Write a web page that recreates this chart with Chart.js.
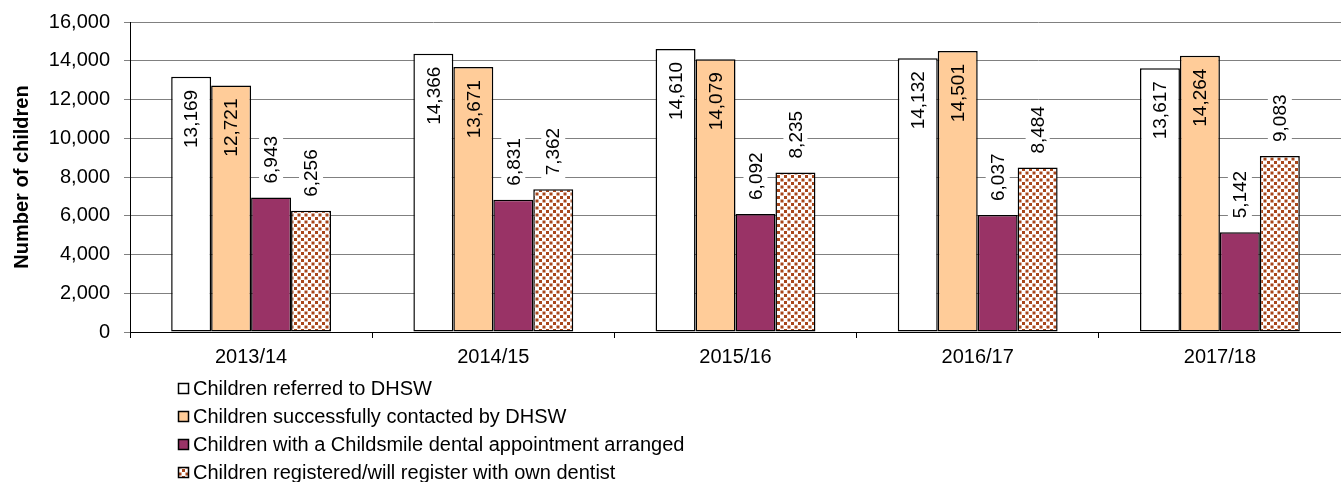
<!DOCTYPE html>
<html>
<head>
<meta charset="utf-8">
<script src="https://cdn.jsdelivr.net/npm/chart.js@4/dist/chart.umd.min.js"></script>
<style>
  html, body { margin: 0; padding: 0; background: #fff; }
  #wrap { width: 1341px; height: 482px; }
</style>
</head>
<body>
<div id="wrap"><canvas id="chart" width="1341" height="482"></canvas></div>
<script>
// chart data
const years = ['2013/14', '2014/15', '2015/16', '2016/17', '2017/18'];
const referred = [13169, 14366, 14610, 14132, 13617];
const contacted = [12721, 13671, 14079, 14501, 14264];
const appointment = [6943, 6831, 6092, 6037, 5142];
const ownDentist = [6256, 7362, 8235, 8484, 9083];
const seriesNames = [
  'Children referred to DHSW',
  'Children successfully contacted by DHSW',
  'Children with a Childsmile dental appointment arranged',
  'Children registered/will register with own dentist'
];
const yTicks = [0, 2000, 4000, 6000, 8000, 10000, 12000, 14000, 16000];

const FONT = "'Liberation Sans', Arial, sans-serif";

function fmt(n){
  return String(n).replace(/\B(?=(\d{3})+(?!\d))/g, ',');
}

// dotted brown fill for the last series
function makeDots(){
  const c = document.createElement('canvas');
  c.width = 7; c.height = 7;
  const g = c.getContext('2d');
  g.fillStyle = '#fff';
  g.fillRect(0, 0, 7, 7);
  g.fillStyle = '#a8461a';
  g.fillRect(0, 0, 3, 3);
  g.fillRect(3.5, 3.5, 3, 3);
  return g.createPattern(c, 'repeat');
}
const dots = makeDots();
const fills = ['#ffffff', '#ffcc99', '#993366', dots];

// rotated value labels: first two series inside the bar top, others above with white box
const valueLabels = {
  id: 'valueLabels',
  afterDatasetsDraw(chart){
    const ctx = chart.ctx;
    ctx.save();
    ctx.font = '19px ' + FONT;
    ctx.textBaseline = 'middle';
    chart.data.datasets.forEach((ds, di) => {
      const meta = chart.getDatasetMeta(di);
      meta.data.forEach((bar, i) => {
        const txt = fmt(ds.data[i]);
        const w = ctx.measureText(txt).width;
        ctx.save();
        if (di < 2) {
          ctx.translate(bar.x, bar.y + 13);
          ctx.rotate(-Math.PI / 2);
          ctx.textAlign = 'right';
        } else {
          ctx.translate(bar.x, bar.y - 14);
          ctx.rotate(-Math.PI / 2);
          ctx.textAlign = 'left';
          ctx.fillStyle = '#fff';
          ctx.fillRect(-4, -12, w + 8, 24);
        }
        ctx.fillStyle = '#000';
        ctx.fillText(txt, 0, 1);
        ctx.restore();
      });
    });
    ctx.restore();
  }
};

// legend as a left aligned list under the axis
const listLegend = {
  id: 'listLegend',
  afterDraw(chart){
    const ctx = chart.ctx;
    ctx.save();
    ctx.font = '20px ' + FONT;
    ctx.textBaseline = 'middle';
    ctx.textAlign = 'left';
    const rows = [388, 416, 444, 472];
    seriesNames.forEach((name, i) => {
      const y = rows[i];
      ctx.fillStyle = fills[i];
      ctx.fillRect(178, y - 5, 11, 11);
      ctx.strokeStyle = '#000';
      ctx.lineWidth = 1.5;
      ctx.strokeRect(178.5, y - 4.5, 10, 10);
      ctx.fillStyle = '#000';
      ctx.fillText(name, 193, y + 1);
    });
    ctx.restore();
  }
};

const allData = [referred, contacted, appointment, ownDentist];

new Chart(document.getElementById('chart'), {
  type: 'bar',
  data: {
    labels: years,
    datasets: allData.map((d, i) => ({
      label: seriesNames[i],
      data: d,
      backgroundColor: fills[i],
      borderColor: '#000',
      borderWidth: 1.5,
      borderSkipped: false,
      categoryPercentage: 0.66,
      barPercentage: 1
    }))
  },
  options: {
    responsive: false,
    animation: false,
    layout: { padding: { top: 22, right: 0, bottom: 110, left: 0 } },
    plugins: {
      legend: { display: false },
      tooltip: { enabled: false }
    },
    scales: {
      x: {
        afterFit(scale){ scale.height = 40; scale.paddingLeft = 0; scale.paddingRight = 0; },
        grid: { drawOnChartArea: false, drawTicks: true, tickLength: 6, color: '#000' },
        border: { color: '#000', width: 1 },
        ticks: { color: '#000', font: { family: FONT, size: 20 }, padding: 7 }
      },
      y: {
        min: 0,
        max: 16000,
        afterFit(scale){ scale.width = 130; scale.paddingTop = 0; scale.paddingBottom = 0; },
        afterBuildTicks(scale){ scale.ticks = yTicks.map(v => ({ value: v })); },
        grid: { color: '#808080', tickLength: 6, tickColor: '#808080' },
        border: { color: '#000', width: 1 },
        ticks: {
          color: '#000',
          font: { family: FONT, size: 20 },
          padding: 14,
          callback: v => fmt(v)
        },
        title: {
          display: true,
          text: 'Number of children',
          color: '#000',
          font: { family: FONT, size: 20, weight: 'bold' },
          padding: { top: 10, bottom: 0 }
        }
      }
    }
  },
  plugins: [valueLabels, listLegend]
});
</script>
</body>
</html>
